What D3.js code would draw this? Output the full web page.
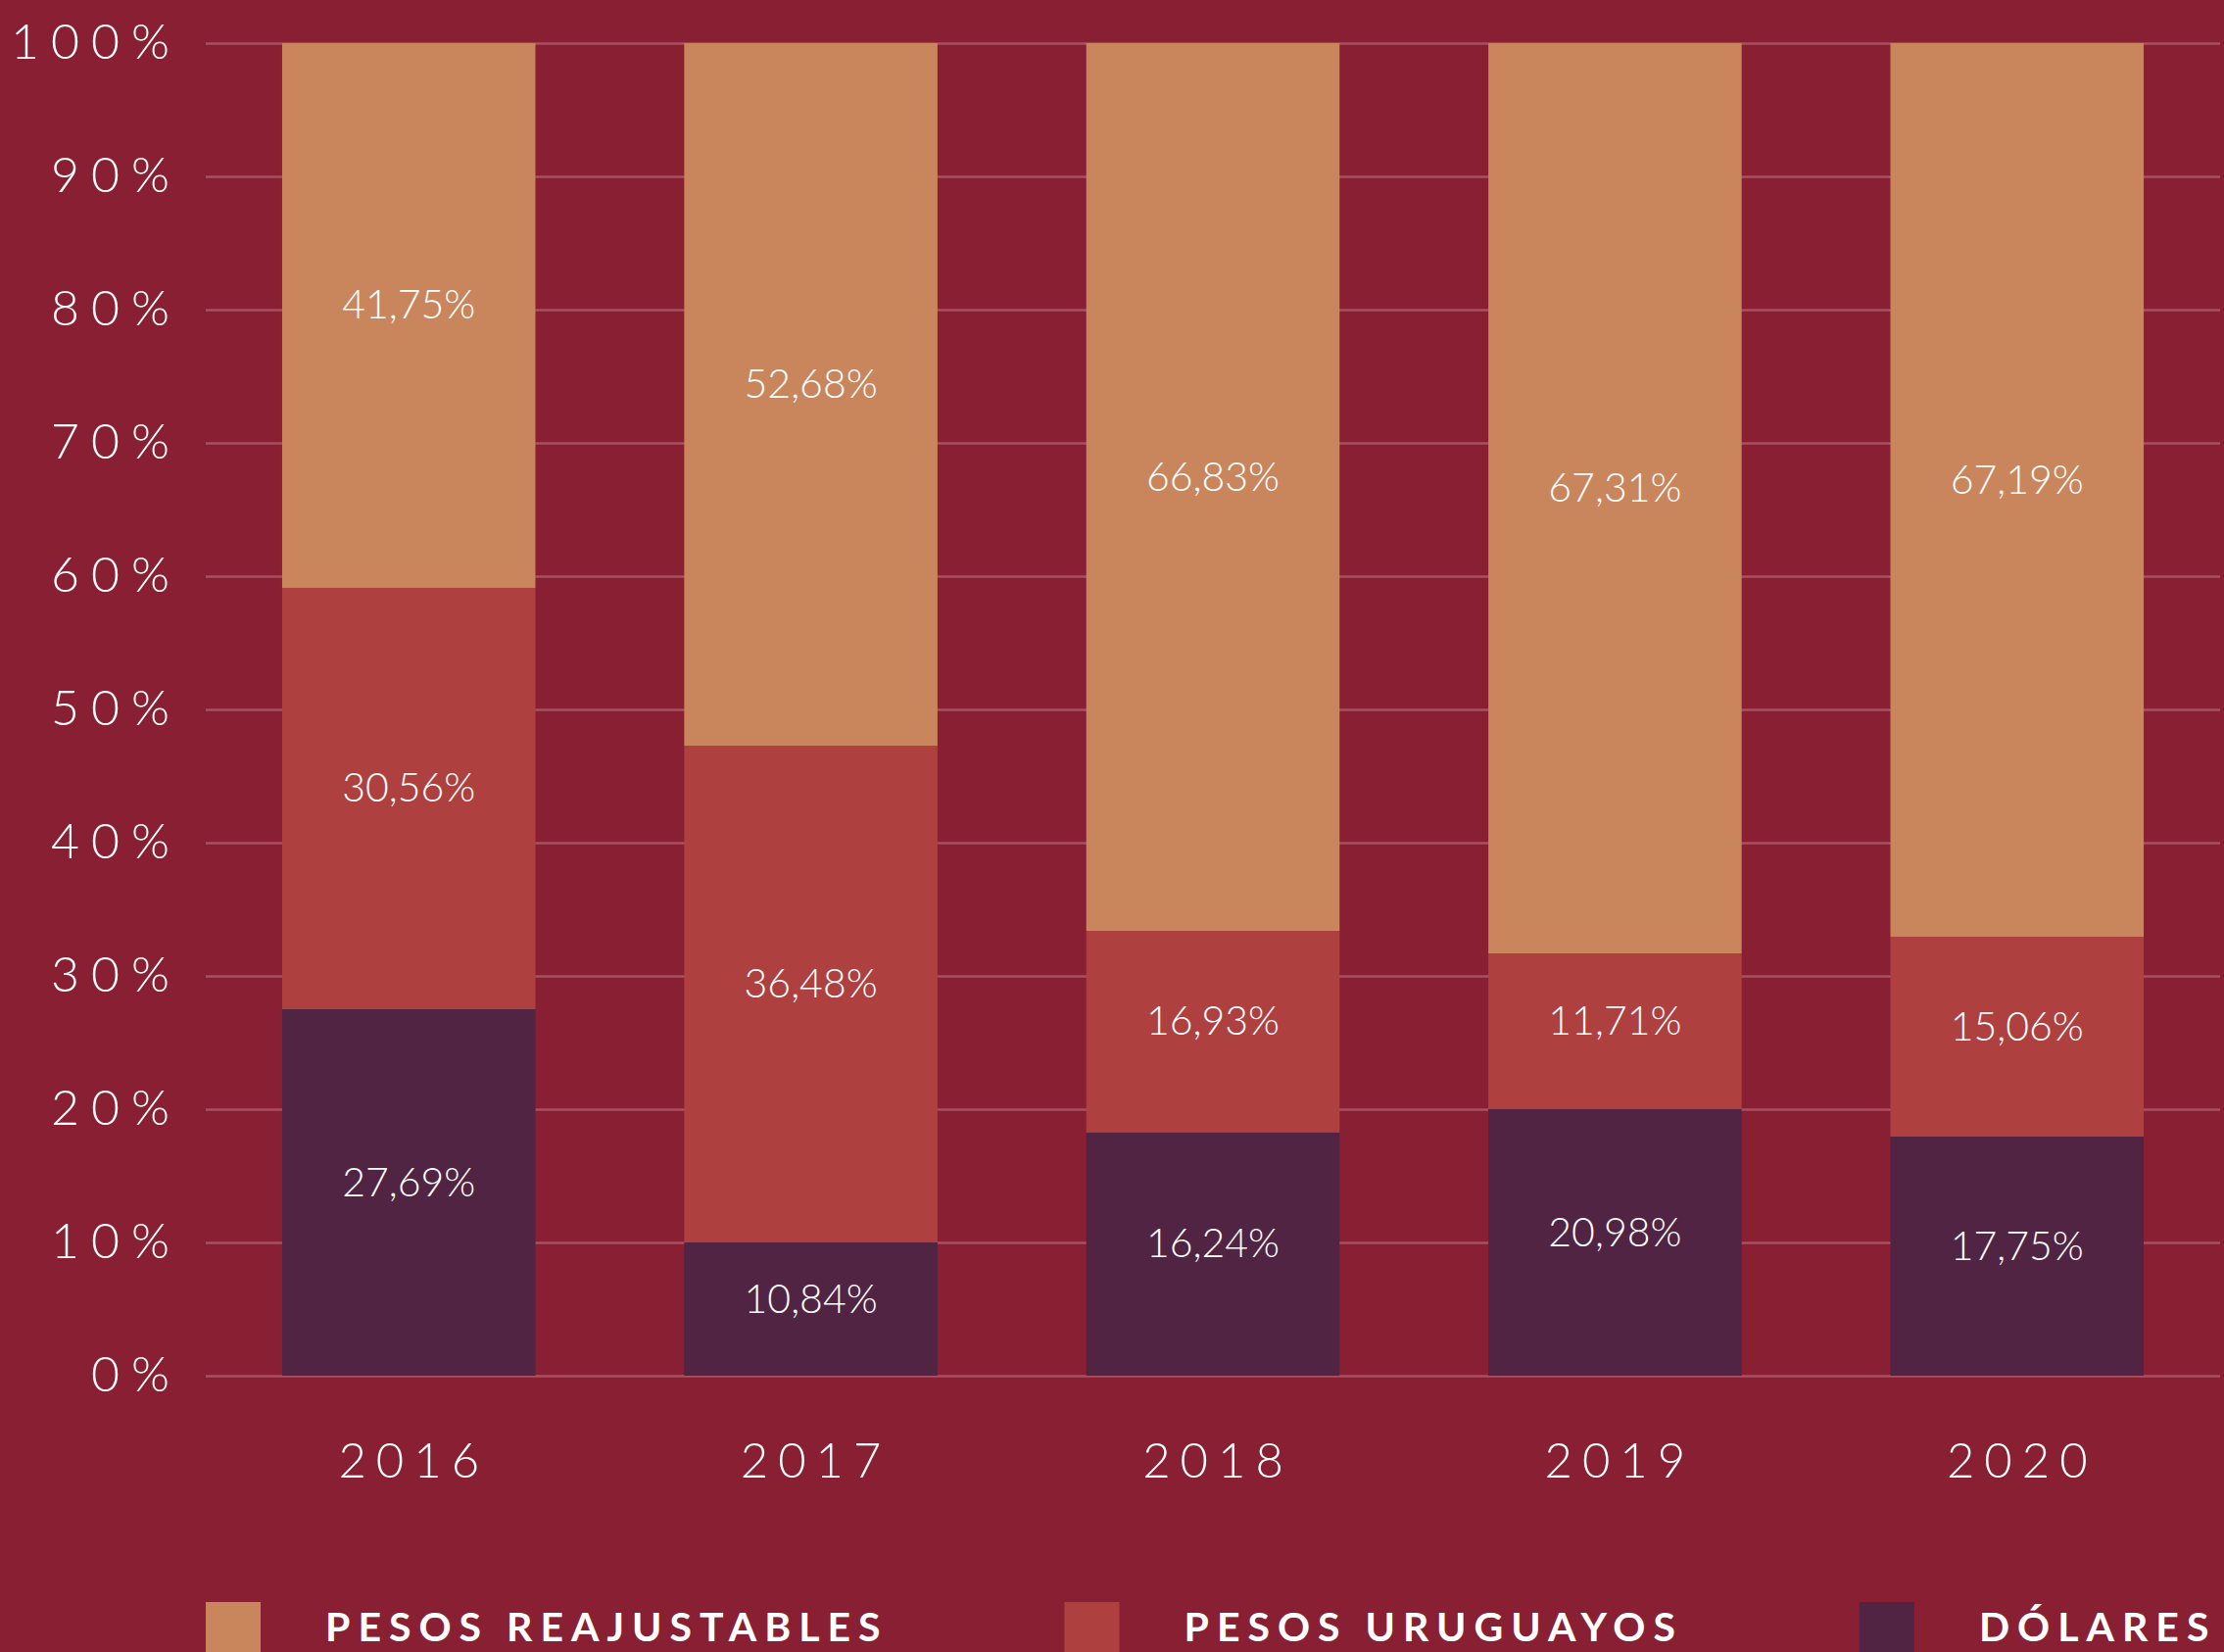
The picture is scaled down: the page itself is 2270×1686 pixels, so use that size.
<!DOCTYPE html>
<html>
<head>
<meta charset="utf-8">
<script src="https://cdn.jsdelivr.net/npm/d3@7"></script>
<style>
  html, body { margin: 0; padding: 0; background: #891f33; overflow: hidden; }
  svg { display: block; }
</style>
</head>
<body>
<div id="chart"></div>
<script>
// bar heights as drawn in the picture (percent)
const years = ["2016", "2017", "2018", "2019", "2020"];
const dolares = [27.5, 10.0, 18.24, 20.0, 17.94];
const pesosUruguayos = [31.62, 37.28, 15.14, 11.69, 15.0];
const pesosReajustables = [40.88, 52.72, 66.62, 68.31, 67.06];

// values printed on the bars
const labelDolares = [27.69, 10.84, 16.24, 20.98, 17.75];
const labelUruguayos = [30.56, 36.48, 16.93, 11.71, 15.06];
const labelReajustables = [41.75, 52.68, 66.83, 67.31, 67.19];

const yTicks = [0, 10, 20, 30, 40, 50, 60, 70, 80, 90, 100];
const seriesKeys = ["dolares", "uruguayos", "reajustables"];
const legendItems = [
    { key: "reajustables", label: "PESOS REAJUSTABLES" },
    { key: "uruguayos", label: "PESOS URUGUAYOS" },
    { key: "dolares", label: "DÓLARES" }
];

const colors = {
    reajustables: "#c9855c",
    uruguayos: "#ae4040",
    dolares: "#512443"
};

const W = 2270, H = 1686;
const plot = { left: 210, right: 2266, top: 44, bottom: 1404 };

const table = years.map((yr, i) => ({
    year: yr,
    dolares: dolares[i],
    uruguayos: pesosUruguayos[i],
    reajustables: pesosReajustables[i]
}));
const labelTable = {
    dolares: labelDolares,
    uruguayos: labelUruguayos,
    reajustables: labelReajustables
};

const svg = d3.select("#chart").append("svg")
    .attr("width", W)
    .attr("height", H);

svg.append("rect")
    .attr("width", W)
    .attr("height", H)
    .attr("fill", "#891f33");

const x = d3.scaleBand()
    .domain(years)
    .range([plot.left, plot.right])
    .paddingInner(0.37)
    .paddingOuter(0.19);

const y = d3.scaleLinear()
    .domain([0, 100])
    .range([plot.bottom, plot.top]);

// y axis + gridlines
const tickSpacing = 12;
const yAxis = d3.axisLeft(y)
    .tickValues(yTicks)
    .tickSize(-(plot.right - plot.left))
    .tickPadding(37 - tickSpacing)
    .tickFormat(d => d + "%");

const yg = svg.append("g")
    .attr("transform", `translate(${plot.left},0)`)
    .call(yAxis);

yg.select(".domain").remove();
yg.selectAll(".tick line")
    .attr("stroke", "#a65262")
    .attr("stroke-width", 2.5);
yg.selectAll(".tick text")
    .attr("fill", "#ffffff")
    .attr("dy", "0.30em")
    .style("font-family", "Lato, 'Open Sans', sans-serif")
    .style("font-weight", 300)
    .style("font-size", "50px")
    .style("letter-spacing", tickSpacing + "px");

// stacked bars
const stacked = d3.stack().keys(seriesKeys)(table);
const fmt = d3.format(".2f");

const layers = svg.append("g").selectAll("g")
    .data(stacked)
    .join("g")
    .attr("fill", d => colors[d.key]);

layers.selectAll("rect")
    .data(d => d)
    .join("rect")
    .attr("x", d => x(d.data.year))
    .attr("y", d => y(d[1]))
    .attr("width", x.bandwidth())
    .attr("height", d => y(d[0]) - y(d[1]));

// value labels
const labels = svg.append("g");
stacked.forEach(layer => {
    labels.append("g").selectAll("text")
        .data(layer)
        .join("text")
        .attr("x", d => x(d.data.year) + x.bandwidth() / 2)
        .attr("y", d => (y(d[0]) + y(d[1])) / 2 - 12)
        .attr("text-anchor", "middle")
        .attr("dominant-baseline", "central")
        .attr("fill", "#ffffff")
        .style("font-family", "Lato, 'Open Sans', sans-serif")
        .style("font-weight", 300)
        .style("font-size", "41px")
        .text((d, i) => fmt(labelTable[layer.key][i]).replace(".", ",") + "%");
});

// year labels
const yearSpacing = 10;
svg.append("g").selectAll("text")
    .data(years)
    .join("text")
    .attr("x", d => x(d) + x.bandwidth() / 2 + yearSpacing / 2)
    .attr("y", 1508)
    .attr("text-anchor", "middle")
    .attr("fill", "#ffffff")
    .style("font-family", "Lato, 'Open Sans', sans-serif")
    .style("font-weight", 300)
    .style("font-size", "49px")
    .style("letter-spacing", yearSpacing + "px")
    .text(d => d);

// legend
const legendSpacing = 8;
const legend = svg.append("g").attr("transform", "translate(210,1635)");
let lx = 0;
legendItems.forEach(item => {
    const g = legend.append("g").attr("transform", `translate(${lx},0)`);
    g.append("rect")
        .attr("width", 56)
        .attr("height", 56)
        .attr("fill", colors[item.key]);
    const t = g.append("text")
        .attr("x", 122)
        .attr("y", 40)
        .attr("fill", "#ffffff")
        .style("font-family", "Lato, 'Open Sans', sans-serif")
        .style("font-weight", 700)
        .style("font-size", "41px")
        .style("letter-spacing", legendSpacing + "px")
        .text(item.label);
    lx += 122 + t.node().getComputedTextLength() - legendSpacing + 188;
});
</script>
</body>
</html>
